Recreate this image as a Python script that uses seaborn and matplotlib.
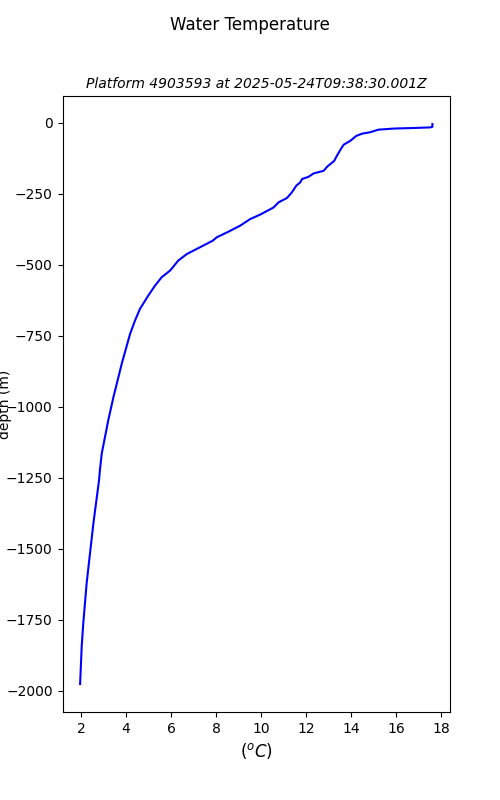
import numpy as np
import matplotlib
matplotlib.use("Agg")
import matplotlib.pyplot as plt
import seaborn as sns
import pandas as pd

# profile (temperature in degC, depth in m)
temperature = [17.6, 17.6, 17.5, 16.8, 15.9, 15.2, 14.84, 14.48, 14.22, 13.96,
               13.66, 13.56, 13.36, 13.24, 12.92, 12.77, 12.33, 12.1, 11.81, 11.73,
               11.56, 11.36, 11.14, 10.77, 10.55, 9.96, 9.51, 9.07, 8.48, 8.03,
               7.85, 7.29, 6.7, 6.32, 5.96, 5.58, 5.29, 4.99, 4.62, 4.4,
               4.18, 3.81, 3.66, 3.44, 3.21, 2.92, 2.84, 2.8, 2.55, 2.4,
               2.25, 2.1, 2.03, 1.96]
depth = [-4, -14, -16, -18, -20, -24, -33, -38, -46, -63,
         -77, -89, -116, -134, -155, -169, -178, -190, -198, -210,
         -221, -245, -265, -280, -298, -323, -339, -362, -386, -403,
         -415, -438, -462, -485, -520, -544, -573, -608, -655, -696,
         -743, -848, -896, -966, -1048, -1165, -1223, -1259, -1411, -1516,
         -1622, -1763, -1845, -1977]

df = pd.DataFrame({"temp": temperature, "depth": depth})

fig, ax = plt.subplots(figsize=(5, 8), dpi=100)
sns.lineplot(data=df, x="temp", y="depth", sort=False, estimator=None,
             color="blue", ax=ax)

fig.suptitle("Water Temperature")
ax.set_title("Platform 4903593 at 2025-05-24T09:38:30.001Z",
             fontsize=10, style="italic")
ax.set_xlabel("($^oC$)", fontsize=12)
ax.set_ylabel("depth (m)")
ax.yaxis.set_label_coords(-0.13, 0.5)

plt.savefig("out.png")
